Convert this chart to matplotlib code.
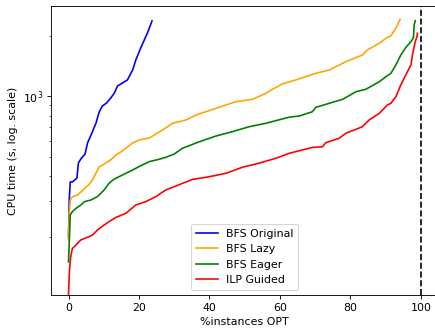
import numpy as np
import matplotlib
matplotlib.use('Agg')
import matplotlib.pyplot as plt

# %instances solved vs. CPU time
x_orig = [0.0, 0.2, 0.5, 1.1, 2.4, 2.8, 3.5, 4.7, 5.4, 6.4, 7.8, 8.7, 9.6, 10.8, 12.0,
          13.0, 13.9, 15.3, 16.7, 18.2, 19.1, 20.5, 21.5, 22.4, 23.7]
t_orig = [200, 305, 375, 375, 392, 466, 488, 516, 586, 642, 736, 835, 895, 926, 981,
          1038, 1125, 1165, 1205, 1352, 1516, 1739, 1906, 2065, 2370]

x_lazy = [0.0, 0.2, 0.5, 1.1, 2.6, 3.5, 4.7, 5.7, 6.8, 7.8, 8.7, 10.6, 12.0, 13.5, 14.9,
          16.3, 18.2, 20.0, 22.9, 26.7, 29.5, 33.3, 36.2, 41.8, 47.5, 52.2, 56.0, 57.9,
          60.7, 64.5, 70.2, 74.0, 78.7, 83.4, 84.8, 88.2, 90.1, 91.5, 92.9, 94.1]
t_lazy = [193, 262, 305, 316, 323, 334, 350, 362, 384, 415, 445, 466, 483, 511, 529,
          553, 586, 606, 620, 680, 734, 762, 807, 871, 940, 966, 1035, 1084,
          1152, 1206, 1301, 1352, 1486, 1604, 1700, 1835, 1944, 2001, 2179, 2415]

x_eager = [0.0, 0.5, 1.1, 2.1, 3.5, 4.5, 6.4, 8.2, 10.1, 11.5, 12.8, 15.3, 18.2, 20.0,
           22.9, 25.7, 27.6, 30.0, 32.3, 37.1, 41.8, 46.5, 51.3, 56.0, 58.9, 62.6, 65.5,
           69.2, 70.2, 74.0, 77.8, 81.6, 84.4, 88.2, 90.1, 91.5, 92.9, 94.3, 95.7, 97.2,
           97.9, 98.1, 98.4]
t_eager = [150, 257, 267, 277, 288, 299, 305, 317, 342, 369, 386, 406, 430, 447,
           473, 486, 497, 516, 551, 594, 634, 667, 706, 734, 757, 787, 798,
           838, 881, 923, 966, 1054, 1084, 1182, 1252, 1301, 1432, 1604, 1746, 1871,
           1958, 2263, 2377]

x_ilp = [0.0, 0.2, 0.5, 0.7, 1.1, 2.1, 3.5, 5.4, 6.8, 8.2, 10.1, 11.5, 13.5, 16.3, 19.1,
         21.9, 24.8, 27.6, 30.5, 35.2, 39.9, 44.7, 49.4, 54.1, 58.9, 62.6, 65.5, 69.2,
         72.1, 73.0, 76.8, 78.7, 81.6, 83.4, 85.3, 88.2, 90.5, 91.5, 92.9, 94.3, 95.7,
         97.2, 97.6, 98.4, 98.9, 99.0]
t_ilp = [102.7, 129, 153, 162, 175, 182, 193, 199, 204, 216, 229, 238, 250, 262, 288,
         299, 317, 342, 358, 386, 398, 414, 444, 465, 492, 520, 536, 557,
         561, 588, 618, 655, 685, 706, 762, 823, 905, 923, 995, 1138, 1276,
         1432, 1604, 1869, 1981, 2058]

dpi = 79
fig = plt.figure(figsize=(435 / dpi, 328 / dpi), dpi=dpi)
ax = fig.add_axes([0.117, 0.1006, 0.891, 0.8811])

ax.plot(x_orig, t_orig, color='blue', label='BFS Original')
ax.plot(x_lazy, t_lazy, color='orange', label='BFS Lazy')
ax.plot(x_eager, t_eager, color='green', label='BFS Eager')
ax.plot(x_ilp, t_ilp, color='red', label='ILP Guided')
ax.axvline(100, color='black', linestyle='--')

ax.set_yscale('log')
ax.set_xlim(-5, 105)
ax.set_ylim(102.7, 2813)
ax.set_xlabel('%instances OPT')
ax.set_ylabel('CPU time (s, log. scale)')
ax.legend(loc='lower center')

plt.savefig('out.png', dpi=dpi)
